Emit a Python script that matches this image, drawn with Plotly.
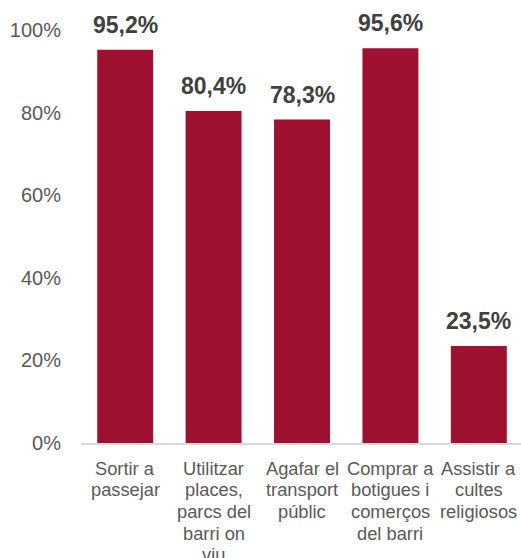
import plotly.graph_objects as go

categories = ["Sortir a<br>passejar", "Utilitzar<br>places,<br>parcs del<br>barri on<br>viu",
              "Agafar el<br>transport<br>públic", "Comprar a<br>botigues i<br>comerços<br>del barri",
              "Assistir a<br>cultes<br>religiosos"]
values = [0.952, 0.804, 0.783, 0.956, 0.235]
labels = [f"{v*100:.1f}%".replace(".", ",") for v in values]
y_ticks = [0, 0.2, 0.4, 0.6, 0.8, 1.0]
y_ticktext = ["0%", "20%", "40%", "60%", "80%", "100%"]

FONT = "Liberation Sans, Arial"
fig = go.Figure(go.Bar(
    x=categories, y=values,
    marker=dict(color="#9E1131", line=dict(width=0)),
    cliponaxis=False, hoverinfo="skip",
))

annotations = []
for cat, lab, v in zip(categories, labels, values):
    annotations.append(dict(
        x=cat, y=v, xref="x", yref="y", text=f"<b>{lab}</b>", showarrow=False,
        yanchor="bottom", yshift=10,
        font=dict(family=FONT, size=23, color="#404040"),
    ))
    for i, line in enumerate(cat.split("<br>")):
        annotations.append(dict(
            x=cat, y=0, xref="x", yref="paper", text=line, showarrow=False,
            yanchor="top", yshift=-12.5 - 21.7 * i,
            font=dict(family=FONT, size=18.3, color="#595959"),
        ))

fig.update_layout(
    width=521, height=558,
    margin=dict(l=80.75, r=0, t=29.5, b=114.7, autoexpand=False),
    plot_bgcolor="white", paper_bgcolor="white",
    bargap=0.367,
    showlegend=False,
    font=dict(family=FONT, color="#595959"),
    annotations=annotations,
)
fig.update_yaxes(range=[0, 1], tickvals=y_ticks, ticktext=y_ticktext, showgrid=False,
                 zeroline=False, showline=False, tickfont=dict(size=20, color="#595959"),
                 ticks="", ticklabelstandoff=19, automargin=False)
fig.update_xaxes(range=[-0.5, 4.477], showline=True, linecolor="#D9D9D9", linewidth=1.5,
                 ticks="", showticklabels=False, automargin=False)
fig.write_html("out.html", config={"displayModeBar": False},
               post_script="document.body.style.margin='0';document.body.style.overflow='hidden';")
